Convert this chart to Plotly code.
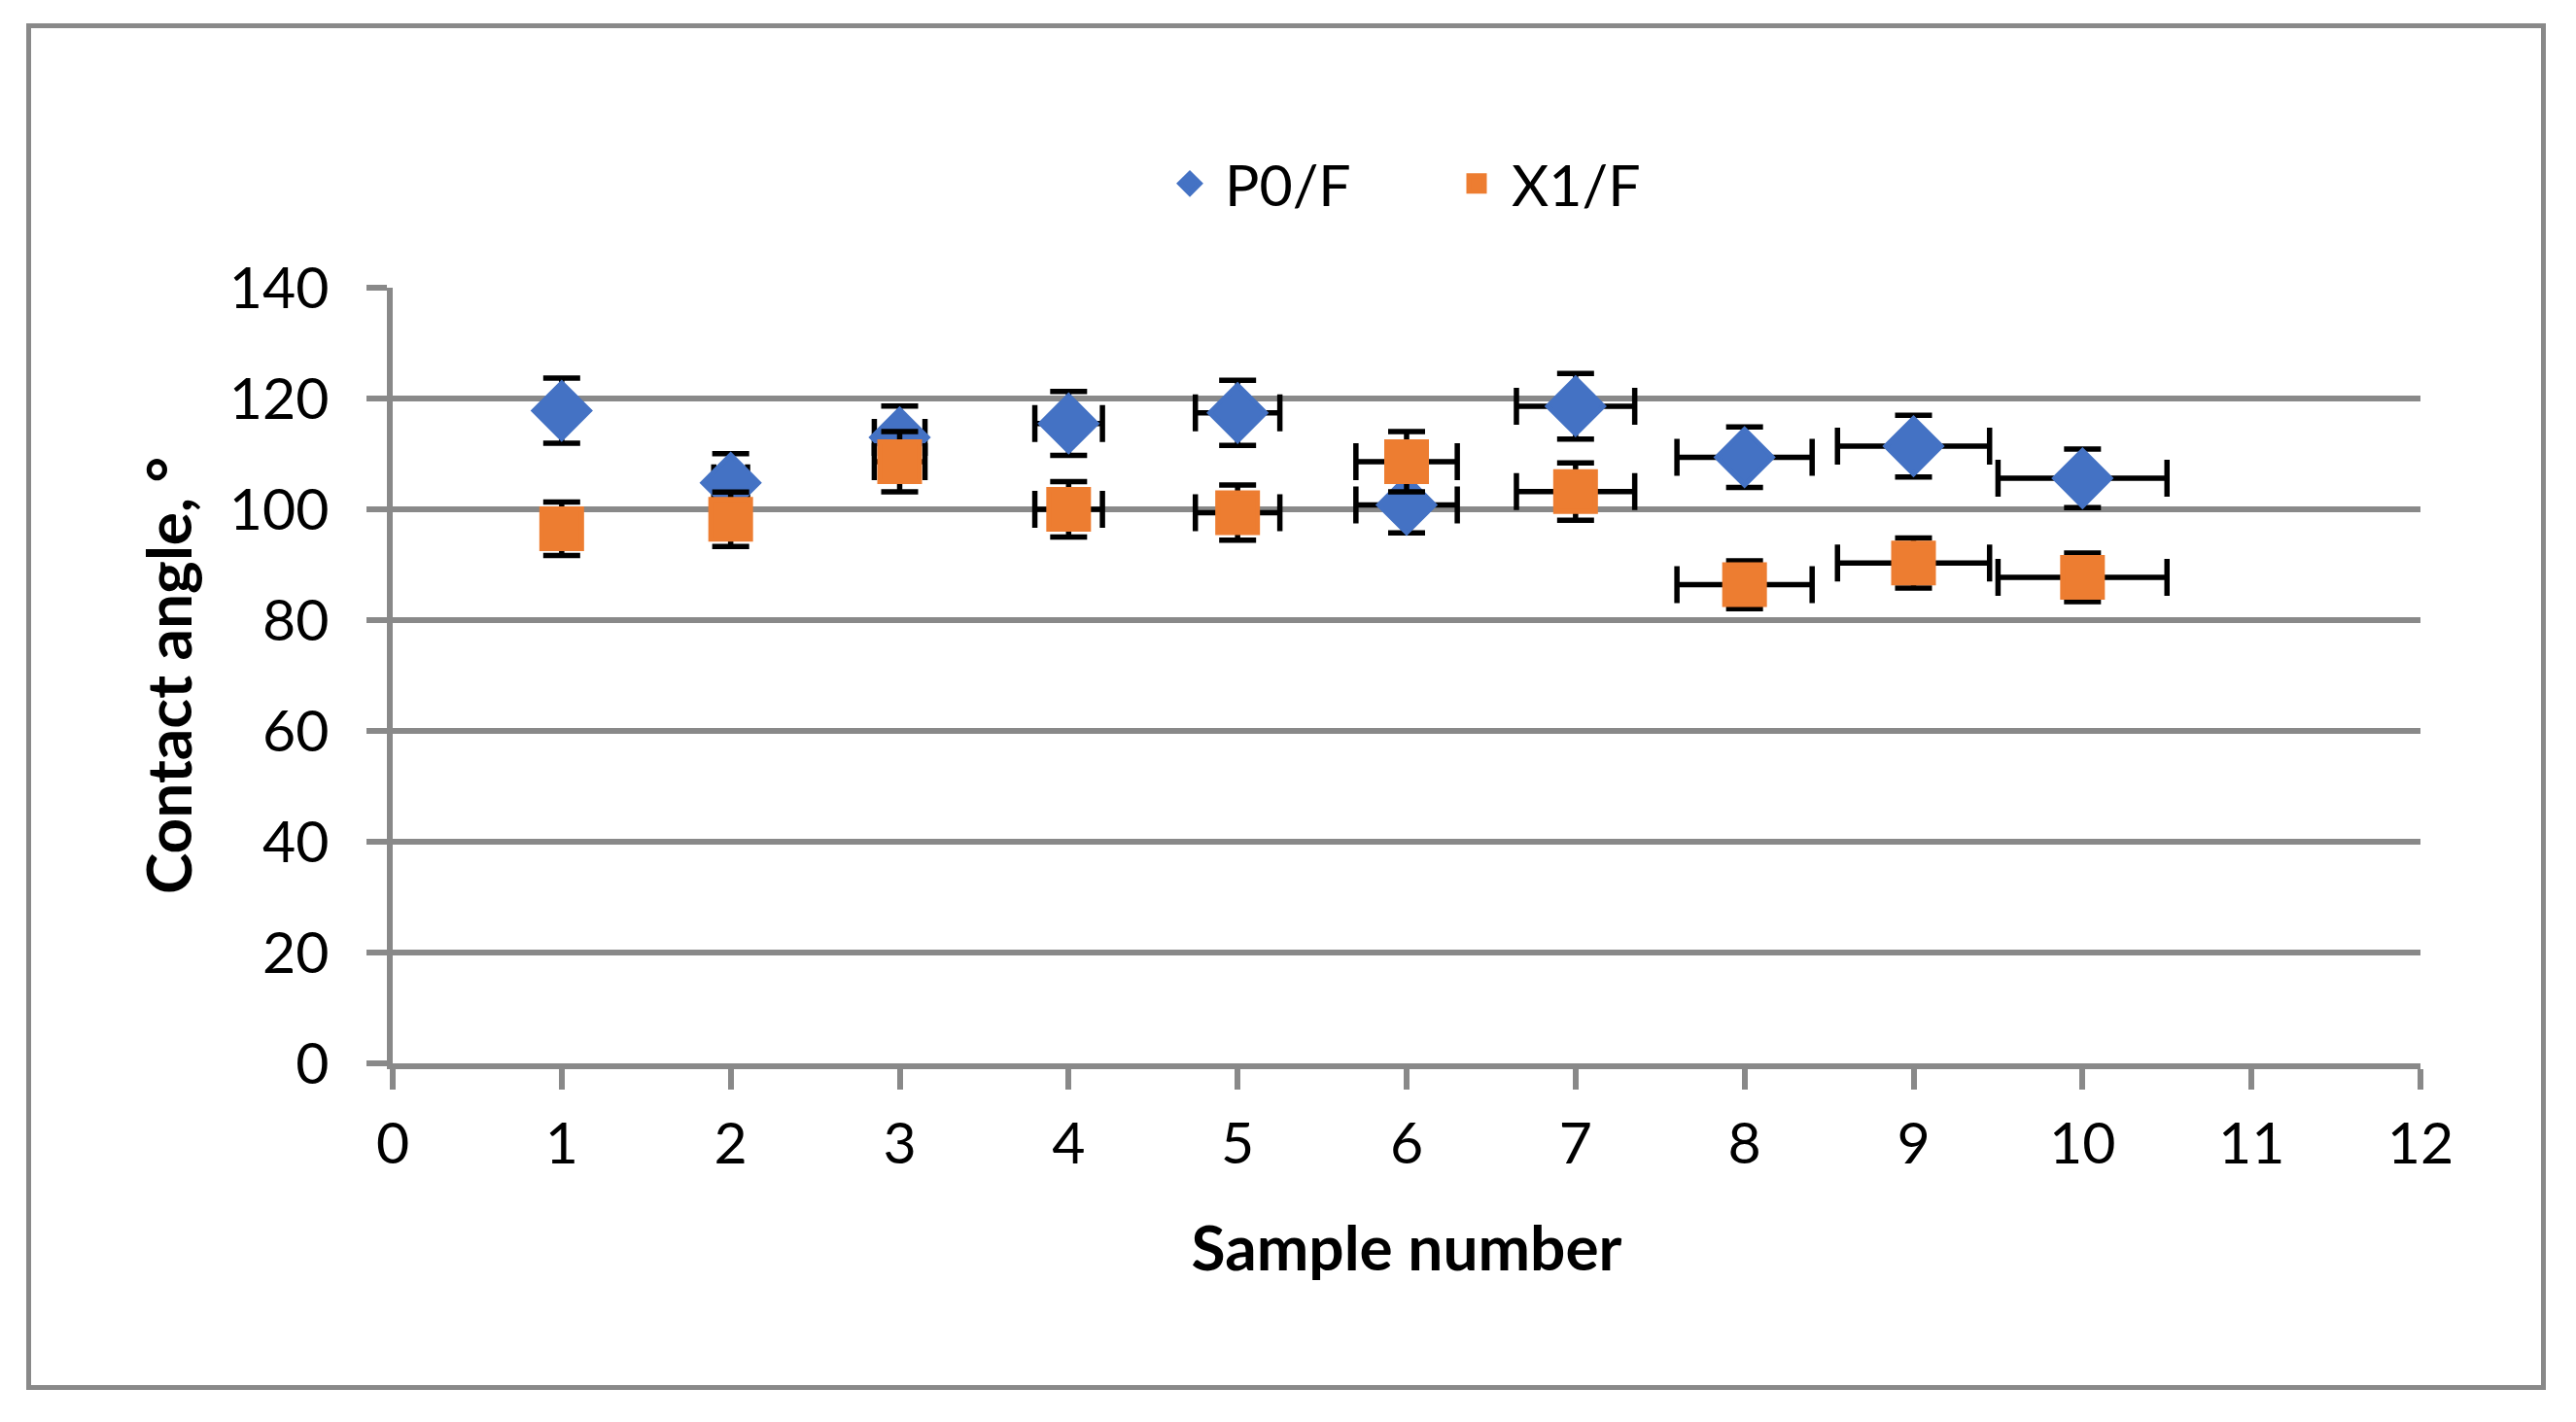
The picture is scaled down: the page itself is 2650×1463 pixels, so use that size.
import plotly.graph_objects as go

# ---- data ----
samples = [1, 2, 3, 4, 5, 6, 7, 8, 9, 10]
p0f = [117.8, 104.8, 113.0, 115.5, 117.4, 100.8, 118.6, 109.4, 111.4, 105.6]
x1f = [96.5, 98.2, 108.6, 100.0, 99.4, 108.6, 103.2, 86.4, 90.3, 87.7]
err_pct = 5  # error bars: 5 % of value on both axes

series_names = ["P0/F", "X1/F"]
series_colors = ["#4472C4", "#ED7D31"]
x_ticks = list(range(0, 13))
y_ticks = list(range(0, 141, 20))

W, H = 2650, 1463
ML, MR, MT, MB = 396, 168, 288, 377
GRAY = "#898989"
FONT = "Lato"

fig = go.Figure()
for name, vals, col, sym, size in [
    (series_names[0], p0f, series_colors[0], "diamond", 44),
    (series_names[1], x1f, series_colors[1], "square", 41),
]:
    fig.add_trace(go.Scatter(
        x=samples, y=vals, name=name, mode="markers",
        marker=dict(symbol=sym, size=size, color=col,
                    line=dict(color=col, width=5)),
        error_y=dict(type="percent", value=err_pct, color="black",
                     thickness=5.5, width=19),
        error_x=dict(type="percent", value=err_pct, color="black",
                     thickness=5.5, width=19),
    ))

pw = W - ML - MR
ph = H - MT - MB
def px2x(p):
    return (p - ML) / pw
def py2y(p):
    return (H - MB - p) / ph

# outer chart border
fig.add_shape(type="rect", xref="paper", yref="paper",
              x0=px2x(21.5), x1=px2x(2608.5), y0=py2y(1419.5), y1=py2y(18.5),
              line=dict(color=GRAY, width=5), fillcolor="rgba(0,0,0,0)",
              layer="below")

fig.update_layout(
    width=W, height=H,
    margin=dict(l=ML, r=MR, t=MT, b=MB, autoexpand=False),
    paper_bgcolor="white", plot_bgcolor="white",
    font=dict(family=FONT, size=59, color="black"),
    showlegend=True,
    legend=dict(orientation="h", x=px2x(1180), xanchor="left",
                y=py2y(181), yanchor="middle",
                font=dict(family=FONT, size=59, color="black"),
                bgcolor="rgba(0,0,0,0)", entrywidth=218, itemwidth=62),
    xaxis=dict(range=[0, 12], tickvals=x_ticks, ticks="outside", ticklen=21,
               tickwidth=5.5, tickcolor=GRAY, showline=True, linecolor=GRAY,
               linewidth=5.5, showgrid=False, zeroline=False,
               ticklabelstandoff=5,
               tickfont=dict(family=FONT, size=59, color="black"),
               title=dict(text="<b>Sample number</b>",
                          font=dict(family=FONT, size=64, color="black"),
                          standoff=56),
               automargin=False),
    yaxis=dict(range=[0, 140], tickvals=y_ticks, ticks="outside", ticklen=21,
               tickwidth=5.5, tickcolor=GRAY, showline=True, linecolor=GRAY,
               linewidth=5.5, showgrid=True, gridcolor=GRAY, gridwidth=5.5,
               zeroline=False, ticklabelstandoff=27,
               tickfont=dict(family=FONT, size=59, color="black"),
               title=dict(text="<b>Contact angle, °</b>",
                          font=dict(family=FONT, size=64, color="black"),
                          standoff=19),
               automargin=False),
)

fig.write_html("out.html")
